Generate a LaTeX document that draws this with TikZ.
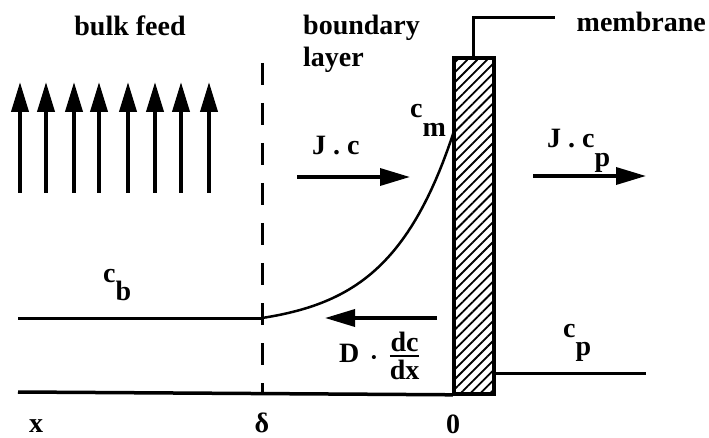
\documentclass[tikz,border=0pt]{standalone}
\usepackage{fontspec}
\setmainfont{Liberation Serif}
\usepackage{amsmath}
\usetikzlibrary{arrows.meta,patterns.meta}
\newcommand{\lowsub}[1]{\raisebox{-0.65em}{#1}}

\begin{document}
\begin{tikzpicture}[x=1pt,y=-1pt,
    every node/.style={font=\fontsize{28}{32}\selectfont\bfseries, inner sep=0pt},
    flux/.style={line width=4pt, -{Triangle[length=30pt,width=17pt]}},
    level/.style={line width=3pt}]
  \useasboundingbox (0,0) rectangle (709,438);
  % feed flowing past the membrane
  \foreach \ax in {20,46,74,99,128,155,181,209}
    \draw[flux] (\ax,193) -- (\ax,82);
  % labels on top
  \node[anchor=base] (bulk) at (130,36) {bulk feed};
  \node[anchor=base west] (bound) at (303,35) {boundary};
  \node[anchor=base west] (layer) at (303,67) {layer};
  \node[anchor=base east] (memlabel) at (706,32) {membrane};
  % membrane
  \node[draw, line width=3.5pt, anchor=north west, minimum width=40pt,
        minimum height=336pt,
        pattern={Lines[angle=45,distance=7pt,line width=1.8pt]}]
    (membrane) at (453,57) {};
  \coordinate (lead) at (555,18);
  \draw[level] (membrane.north) |- (lead);
  % concentration levels
  \coordinate (xend) at (18,392);
  \coordinate (bulkend) at (18,318);
  \coordinate (delta) at (262,318);
  \coordinate (perm) at (646,373);
  \draw[line width=3.5pt] (xend) -- (membrane.south west);
  \draw[level] (bulkend) -- (delta);
  \draw[level] (membrane.east |- perm) -- (perm);
  \draw[line width=2.5pt] plot[domain=0:1, samples=50]
    ({262+193*\x},{318-190*(exp(3*\x)-1)/(exp(3)-1)});
  \draw[level, dash pattern=on 22pt off 18pt] (262,63) -- (262,392);
  % fluxes
  \coordinate (jcstart) at (297,177);
  \coordinate (jcend) at (410,177);
  \coordinate (jpstart) at (533,176);
  \coordinate (jpend) at (646,176);
  \coordinate (dstart) at (437,318);
  \coordinate (dend) at (325,318);
  \draw[flux, line width=3.5pt] (jcstart) -- (jcend);
  \draw[flux, line width=3.5pt] (jpstart) -- (jpend);
  \draw[flux, line width=3.5pt] (dstart) -- (dend);
  \node[anchor=base west] (jc) at (312,155) {J . c};
  \node[anchor=base west] (jcp) at (547,148) {J . c\lowsub{p}};
  \node[anchor=west] (diff) at (339,356)
    {D\hspace{12pt}{\fontsize{15}{15}\selectfont\textbullet}\hspace{12pt}%
     $\genfrac{}{}{2.5pt}{}{\hbox{dc}}{\hbox{dx}}$};
  \node[anchor=base west] (cm) at (410,118) {c\lowsub{m}};
  \node[anchor=base west] (cb) at (103,282) {c\lowsub{b}};
  \node[anchor=base west] (cp) at (563,337) {c\lowsub{p}};
  % distance axis
  \node[anchor=base] (xlab) at (36,432) {x};
  \node[anchor=base] (dlab) at (262,432) {δ};
  \node[anchor=base] (zero) at (453,433) {0};
\end{tikzpicture}
\end{document}
